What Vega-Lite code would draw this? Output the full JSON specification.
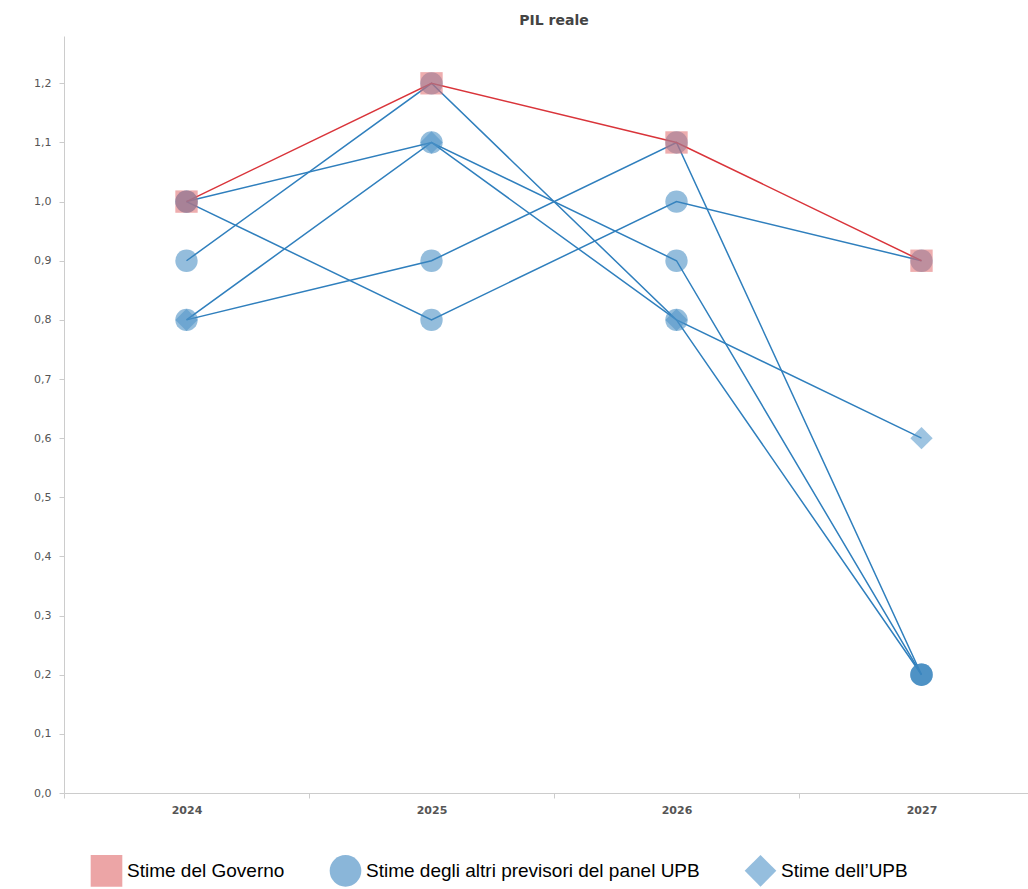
{
"$schema":"https://vega.github.io/schema/vega-lite/v6.json",
"width":980,"height":757,
"padding":{"left":33,"top":14,"right":0,"bottom":0},
"title":{"text":"PIL reale","fontSize":14,"font":"DejaVu Sans","fontWeight":"bold","color":"#444","offset":8},
"data":{"values":[
{"anno":"2024","valore":1.0,"id":"A","serie":"Stime degli altri previsori del panel UPB"},
{"anno":"2025","valore":1.1,"id":"A","serie":"Stime degli altri previsori del panel UPB"},
{"anno":"2026","valore":0.9,"id":"A","serie":"Stime degli altri previsori del panel UPB"},
{"anno":"2027","valore":0.2,"id":"A","serie":"Stime degli altri previsori del panel UPB"},
{"anno":"2024","valore":1.0,"id":"B","serie":"Stime degli altri previsori del panel UPB"},
{"anno":"2025","valore":0.8,"id":"B","serie":"Stime degli altri previsori del panel UPB"},
{"anno":"2026","valore":1.0,"id":"B","serie":"Stime degli altri previsori del panel UPB"},
{"anno":"2027","valore":0.9,"id":"B","serie":"Stime degli altri previsori del panel UPB"},
{"anno":"2024","valore":0.9,"id":"C","serie":"Stime degli altri previsori del panel UPB"},
{"anno":"2025","valore":1.2,"id":"C","serie":"Stime degli altri previsori del panel UPB"},
{"anno":"2026","valore":0.8,"id":"C","serie":"Stime degli altri previsori del panel UPB"},
{"anno":"2027","valore":0.2,"id":"C","serie":"Stime degli altri previsori del panel UPB"},
{"anno":"2024","valore":0.8,"id":"D","serie":"Stime degli altri previsori del panel UPB"},
{"anno":"2025","valore":0.9,"id":"D","serie":"Stime degli altri previsori del panel UPB"},
{"anno":"2026","valore":1.1,"id":"D","serie":"Stime degli altri previsori del panel UPB"},
{"anno":"2027","valore":0.2,"id":"D","serie":"Stime degli altri previsori del panel UPB"},
{"anno":"2024","valore":0.8,"id":"UPB","serie":"Stime dell’UPB"},
{"anno":"2025","valore":1.1,"id":"UPB","serie":"Stime dell’UPB"},
{"anno":"2026","valore":0.8,"id":"UPB","serie":"Stime dell’UPB"},
{"anno":"2027","valore":0.6,"id":"UPB","serie":"Stime dell’UPB"},
{"anno":"2024","valore":1.0,"id":"Gov","serie":"Stime del Governo"},
{"anno":"2025","valore":1.2,"id":"Gov","serie":"Stime del Governo"},
{"anno":"2026","valore":1.1,"id":"Gov","serie":"Stime del Governo"},
{"anno":"2027","valore":0.9,"id":"Gov","serie":"Stime del Governo"}
]},
"encoding":{
"x":{"field":"anno","type":"ordinal","bandPosition":0.5,"scale":{"type":"band","paddingInner":0,"paddingOuter":0},
"axis":{"title":null,"labelAngle":0,"labelFont":"DejaVu Sans","labelFontSize":11,"labelFontWeight":"bold","labelColor":"#555","tickBand":"extent","tickColor":"#ccc","domainColor":"#ccc","labelPadding":6}},
"y":{"field":"valore","type":"quantitative","scale":{"domain":[0,1.28],"nice":false},
"axis":{"title":null,"values":[0,0.1,0.2,0.3,0.4,0.5,0.6,0.7,0.8,0.9,1.0,1.1,1.2],"format":".1f","labelExpr":"replace(datum.label,'.',',')","grid":false,"labelFont":"DejaVu Sans","labelFontSize":11,"labelColor":"#555","tickColor":"#ccc","domainColor":"#ccc","labelPadding":8}}
},
"layer":[
{"mark":{"type":"line","strokeWidth":1.5},
"encoding":{"detail":{"field":"id"},"stroke":{"field":"serie","type":"nominal","legend":null,
"scale":{"domain":["Stime del Governo","Stime degli altri previsori del panel UPB","Stime dell’UPB"],"range":["#d9343a","#2f7fbd","#2f7fbd"]}}}},
{"mark":{"type":"point","filled":true,"size":500,"opacity":0.55},
"encoding":{
"shape":{"field":"serie","type":"nominal","scale":{"domain":["Stime del Governo","Stime degli altri previsori del panel UPB","Stime dell’UPB"],"range":["square","circle","diamond"]}},
"fill":{"field":"serie","type":"nominal","scale":{"domain":["Stime del Governo","Stime degli altri previsori del panel UPB","Stime dell’UPB"],"range":["#e06a6c","#3d86c0","#4f93c9"]}}}}
],
"resolve":{"scale":{"stroke":"independent"},"legend":{"stroke":"independent"}},
"config":{"view":{"stroke":null},
"legend":{"orient":"none","legendX":26,"legendY":818,"direction":"horizontal","symbolSize":1000,"labelFontSize":19,"labelFont":"Liberation Sans","labelColor":"#000","title":null,"labelLimit":500,"columnPadding":42,"symbolStrokeWidth":1,"symbolStrokeColor":"#2f6fa8","symbolOpacity":0.6}}
}
